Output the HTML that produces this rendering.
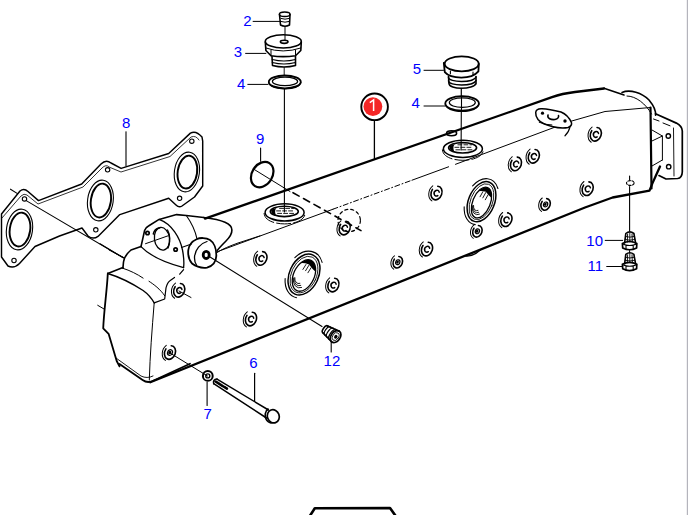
<!DOCTYPE html>
<html><head><meta charset="utf-8"><style>
html,body{margin:0;padding:0;background:#fff;}
svg{display:block;}
</style></head><body>
<svg width="689" height="515" viewBox="0 0 689 515">
<rect width="689" height="515" fill="#fff"/>
<path d="M205,218.6 L552,97.2 Q562,93.6 575,92 L604,88.5" stroke-width="2.3" stroke="#000" stroke-linecap="round" stroke-linejoin="round" fill="none" />
<path d="M604,88.2 L624,95" stroke-width="1.6" stroke="#000" stroke-linecap="round" stroke-linejoin="round" fill="none" />
<path d="M216.5,252 L333,209.2 M412,180.2 L448.6,166.8 M455.5,164.3 L570,121.5 L605,111.5 L650.5,107.5" stroke-width="1.0" stroke="#000" stroke-linecap="round" stroke-linejoin="round" fill="none" />
<path d="M333,209.2 L412,180.2" stroke-width="1.0" stroke="#000" stroke-linecap="round" stroke-linejoin="round" fill="none" stroke-dasharray="5,2.5,1,2.5" stroke-linecap="butt"/>
<path d="M650.5,107.5 L651.5,188.5" stroke-width="2.2" stroke="#000" stroke-linecap="round" stroke-linejoin="round" fill="none" />
<path d="M653.5,119 L659,121 M663,123 L670,125.8" stroke-width="1.0" stroke="#000" stroke-linecap="round" stroke-linejoin="round" fill="none" />
<path d="M150.3,382.3 L585,207.5 L612.6,197.5 L649.5,190.7 L652.4,183.4 L660,166.5" stroke-width="2.3" stroke="#000" stroke-linecap="round" stroke-linejoin="round" fill="none" />
<path d="M465,255.8 Q473,257 480.5,249.8" stroke-width="1.4" stroke="#000" stroke-linecap="round" stroke-linejoin="round" fill="none" />
<path d="M107.8,273.5 L122.9,267.6" stroke-width="1.6" stroke="#000" stroke-linecap="round" stroke-linejoin="round" fill="none" />
<path d="M107.8,273.5 C107,290 104,310 103.2,328.4 L108.6,333.8 L116.7,361 L119.5,366.4" stroke-width="1.8" stroke="#000" stroke-linecap="round" stroke-linejoin="round" fill="none" />
<path d="M119.5,364 L142.6,380 Q148,384 154.8,380 L190,363.7" stroke-width="1.8" stroke="#000" stroke-linecap="round" stroke-linejoin="round" fill="none" />
<path d="M116,358 L141,376 Q147,379 153,376" stroke-width="0.9" stroke="#000" stroke-linecap="round" stroke-linejoin="round" fill="none" />
<path d="M97.7,305.3 L104.5,309.3" stroke-width="1.0" stroke="#000" stroke-linecap="round" stroke-linejoin="round" fill="none" />
<path d="M107.8,273.5 C116,276 130,282 143.1,290.5 C148,294 152,299 154.2,302.9" stroke-width="1.4" stroke="#000" stroke-linecap="round" stroke-linejoin="round" fill="none" />
<path d="M122.9,268.3 C130,270.5 137,274 143.1,278.1 M149,281.3 C154,284.5 160,289 164.7,295.7" stroke-width="1.0" stroke="#000" stroke-linecap="round" stroke-linejoin="round" fill="none" />
<path d="M154.2,302.9 C152,330 150,355 149.3,380" stroke-width="1.0" stroke="#000" stroke-linecap="round" stroke-linejoin="round" fill="none" />
<path d="M154.2,302.9 L164.7,299 L166,287.9 C167,284 168,282 169.9,280.7 L174.5,277.4 M179.7,274.2 L183.6,269.6" stroke-width="1.2" stroke="#000" stroke-linecap="round" stroke-linejoin="round" fill="none" />
<path d="M141,246.6 L144.6,230.5 Q145.5,227.5 148.5,226 L159.1,219.4 L176.6,214.6 L186.3,215.5 L203.7,217.5" stroke-width="1.6" stroke="#000" stroke-linecap="round" stroke-linejoin="round" fill="none" />
<path d="M141,246.6 L131,250 Q124,256 123.5,262 L122.9,268.3" stroke-width="1.6" stroke="#000" stroke-linecap="round" stroke-linejoin="round" fill="none" />
<path d="M159.1,219.4 C172,224 180,238 182.5,250 C183.8,257 184.3,262 183.6,267.6" stroke-width="1.3" stroke="#000" stroke-linecap="round" stroke-linejoin="round" fill="none" />
<path d="M141,246.6 C150,256 166,263 183.6,267.6" stroke-width="1.2" stroke="#000" stroke-linecap="round" stroke-linejoin="round" fill="none" />
<path d="M186.3,215.5 C191,222 195,230 197,238.8" stroke-width="1.1" stroke="#000" stroke-linecap="round" stroke-linejoin="round" fill="none" />
<path d="M109.1,250 L124.2,257.8" stroke-width="1.0" stroke="#000" stroke-linecap="round" stroke-linejoin="round" fill="none" />
<ellipse cx="162" cy="238.8" rx="7.6" ry="11.4" stroke-width="1.3" stroke="#000" stroke-linecap="round" stroke-linejoin="round" fill="none" transform="rotate(-8 162 238.8)"/>
<path d="M167.5,230 C170,234 170.5,242 168,248" stroke-width="1.4" stroke="#000" stroke-linecap="round" stroke-linejoin="round" fill="none" />
<path d="M153.3,234 Q154.5,229 159.1,228.1" stroke-width="1.5" stroke="#000" stroke-linecap="round" stroke-linejoin="round" fill="none" />
<path d="M145.5,243.7 L167.8,235.9" stroke-width="1.0" stroke="#000" stroke-linecap="round" stroke-linejoin="round" fill="none" />
<circle cx="147.5" cy="233" r="1.7" stroke-width="1.7" stroke="#000" stroke-linecap="round" stroke-linejoin="round" fill="none"/>
<circle cx="175.6" cy="249.5" r="1.7" stroke-width="1.7" stroke="#000" stroke-linecap="round" stroke-linejoin="round" fill="none"/>
<path d="M203.7,217.5 C212,218.5 220,220 225,222.3 C230,224.5 232,227 231.9,230 C232,233 230,237 226,241 C222,245 219,248 217.3,250.4" stroke-width="1.6" stroke="#000" stroke-linecap="round" stroke-linejoin="round" fill="none" />
<path d="M217.3,252.4 C222,249 230,246 238,243 L260,235.9" stroke-width="1.0" stroke="#000" stroke-linecap="round" stroke-linejoin="round" fill="none" />
<path d="M196.6,239.2 C200,237.5 206,237.5 210,240 C214,242.5 216.5,249 216.3,256 C216,262 213,266 207,267.6 C200,268.5 196,266.5 192,263.5 C189,260 187.8,255 188.3,250 C188.8,246 191.5,241.5 196.6,239.2 Z" stroke-width="1.8" stroke="#000" stroke-linecap="round" stroke-linejoin="round" fill="#fff" />
<path d="M207,241.5 C200,243.5 195.5,249.5 194.6,256 C194.2,260 194.8,262.5 196.5,265" stroke-width="1.3" stroke="#000" stroke-linecap="round" stroke-linejoin="round" fill="none" />
<ellipse cx="206.2" cy="254.9" rx="3" ry="3.6" stroke-width="2.8" stroke="#000" stroke-linecap="round" stroke-linejoin="round" fill="none"/>
<path d="M181.5,247.5 L191.5,244" stroke-width="1.1" stroke="#000" stroke-linecap="round" stroke-linejoin="round" fill="none" />
<path d="M208.8,256.3 L322,326.5" stroke-width="1.1" stroke="#000" stroke-linecap="round" stroke-linejoin="round" fill="none" />
<path d="M19.5,263.5 Q14,269 8,266 L1.5,257 L1.5,214 L20,191 Q24,188 28,191.5 L38.5,200.6 L81.7,184 L101,164 Q106,159 111,163 L121.1,168.4 L168.7,153.5 L190.4,133.1 Q196,130 202,137 L202.7,141.2 L202.7,186 L194.5,197 L182,206 Q179,208 176,205 L168.7,198.3 L119.8,214.6 L98,236.4 Q93,240 88,236 L82,228 L59.5,236 L35,246.5 L19.5,263.5" stroke-width="1.45" stroke="#000" stroke-linecap="round" stroke-linejoin="round" fill="none" />
<path d="M2,218 L21,196 Q24,193 27,195 L38,204 L83,187 L102,168 Q106,164 109,167 L121,172 L170,156.5 L191,137 Q196,135 199,140" stroke-width="0.8" stroke="#000" stroke-linecap="round" stroke-linejoin="round" fill="none" />
<ellipse cx="19.5" cy="229.5" rx="13" ry="20.5" stroke-width="1.1" stroke="#000" stroke-linecap="round" stroke-linejoin="round" fill="none" transform="rotate(8 19.5 229.5)"/>
<ellipse cx="20.0" cy="229.5" rx="10.2" ry="17.0" stroke-width="1.9" stroke="#000" stroke-linecap="round" stroke-linejoin="round" fill="none" transform="rotate(8 19.5 229.5)"/>
<ellipse cx="100.4" cy="200.5" rx="12.8" ry="20.5" stroke-width="1.1" stroke="#000" stroke-linecap="round" stroke-linejoin="round" fill="none" transform="rotate(8 100.4 200.5)"/>
<ellipse cx="100.9" cy="200.5" rx="10.0" ry="17.0" stroke-width="1.9" stroke="#000" stroke-linecap="round" stroke-linejoin="round" fill="none" transform="rotate(8 100.4 200.5)"/>
<ellipse cx="186.9" cy="172" rx="12.5" ry="20" stroke-width="1.1" stroke="#000" stroke-linecap="round" stroke-linejoin="round" fill="none" transform="rotate(8 186.9 172)"/>
<ellipse cx="187.4" cy="172" rx="9.7" ry="16.5" stroke-width="1.9" stroke="#000" stroke-linecap="round" stroke-linejoin="round" fill="none" transform="rotate(8 186.9 172)"/>
<circle cx="24.5" cy="198.9" r="2.2" stroke-width="1.1" stroke="#000" stroke-linecap="round" stroke-linejoin="round" fill="none"/>
<circle cx="107.6" cy="169.8" r="2.2" stroke-width="1.1" stroke="#000" stroke-linecap="round" stroke-linejoin="round" fill="none"/>
<circle cx="191.8" cy="141.2" r="2.2" stroke-width="1.1" stroke="#000" stroke-linecap="round" stroke-linejoin="round" fill="none"/>
<circle cx="179.6" cy="198.3" r="2.2" stroke-width="1.1" stroke="#000" stroke-linecap="round" stroke-linejoin="round" fill="none"/>
<circle cx="95.8" cy="229.8" r="2.2" stroke-width="1.1" stroke="#000" stroke-linecap="round" stroke-linejoin="round" fill="none"/>
<circle cx="14" cy="260.5" r="2.2" stroke-width="1.1" stroke="#000" stroke-linecap="round" stroke-linejoin="round" fill="none"/>
<path d="M10.5,189.2 L17.5,193.6 M26.2,200.6 L123.3,257.8" stroke-width="1.1" stroke="#000" stroke-linecap="round" stroke-linejoin="round" fill="none" />
<path d="M100,243.8 L123.3,257.8" stroke-width="1.1" stroke="#000" stroke-linecap="round" stroke-linejoin="round" fill="none" />
<ellipse cx="284.7" cy="14.3" rx="5.3" ry="2.3" stroke-width="1.5" stroke="#000" stroke-linecap="round" stroke-linejoin="round" fill="none"/>
<path d="M279.5,14.5 L280.5,25 Q285,27.5 289.5,25 L290,14.5" stroke-width="1.6" stroke="#000" stroke-linecap="round" stroke-linejoin="round" fill="none" />
<path d="M281,18.5 Q285,20 289,18.5 M281,21.5 Q285,23 289,21.5" stroke-width="1.0" stroke="#000" stroke-linecap="round" stroke-linejoin="round" fill="none" />
<path d="M285,27 L285,40" stroke-width="1.0" stroke="#000" stroke-linecap="round" stroke-linejoin="round" fill="none" />
<ellipse cx="283.3" cy="41.4" rx="18" ry="6.6" stroke-width="1.6" stroke="#000" stroke-linecap="round" stroke-linejoin="round" fill="none"/>
<path d="M265.3,42 L265.9,50.5 L271,55.7 Q283,57.5 295.5,55.7 L300.8,50.5 L301.3,42" stroke-width="1.6" stroke="#000" stroke-linecap="round" stroke-linejoin="round" fill="none" />
<path d="M265.9,48 Q283,54 300.8,48 M271,50 L271,55.7 M295.5,50 L295.5,55.7" stroke-width="1.0" stroke="#000" stroke-linecap="round" stroke-linejoin="round" fill="none" />
<ellipse cx="284.2" cy="41.8" rx="3.8" ry="1.6" stroke-width="1.6" stroke="#000" stroke-linecap="round" stroke-linejoin="round" fill="none"/>
<path d="M272,56.5 L272.5,65.5 Q284,68.5 295.5,65.5 L295.5,56.5" stroke-width="1.6" stroke="#000" stroke-linecap="round" stroke-linejoin="round" fill="none" />
<path d="M272.2,59.5 Q284,62.5 295.5,59.5 M272.3,62.5 Q284,65.5 295.5,62.5" stroke-width="1.2" stroke="#000" stroke-linecap="round" stroke-linejoin="round" fill="none" />
<path d="M284.2,67.5 L284.2,75" stroke-width="0.9" stroke="#000" stroke-linecap="round" stroke-linejoin="round" fill="none" />
<ellipse cx="284.8" cy="81.9" rx="16" ry="6.4" stroke-width="1.8" stroke="#000" stroke-linecap="round" stroke-linejoin="round" fill="none"/>
<ellipse cx="285" cy="81.4" rx="12.6" ry="4.2" stroke-width="1.2" stroke="#000" stroke-linecap="round" stroke-linejoin="round" fill="none"/>
<path d="M268.8,82.5 Q270,88.5 284.8,89 Q299,88.5 300.8,82.5" stroke-width="1.2" stroke="#000" stroke-linecap="round" stroke-linejoin="round" fill="none" />
<path d="M284.4,89 L284.4,212" stroke-width="1.1" stroke="#000" stroke-linecap="round" stroke-linejoin="round" fill="none" />
<ellipse cx="262.2" cy="174.6" rx="13.6" ry="10.2" stroke-width="2.2" stroke="#000" stroke-linecap="round" stroke-linejoin="round" fill="none" transform="rotate(-58 262.2 174.6)"/>
<path d="M253.3,168.9 L290,191.5" stroke-width="1.0" stroke="#000" stroke-linecap="round" stroke-linejoin="round" fill="none" />
<path d="M293,192.7 L361,230.6" stroke-width="1.6" stroke="#000" stroke-linecap="round" stroke-linejoin="round" fill="none" stroke-dasharray="7,5"/>
<ellipse cx="284.6" cy="212.4" rx="19.5" ry="8.6" stroke-width="1.5" stroke="#000" stroke-linecap="round" stroke-linejoin="round" fill="none"/>
<path d="M264.1,213.4 C264.6,221.4 276.6,223.9 284.6,223.9 C292.6,223.9 304.6,221.4 305.1,213.4" stroke-width="1.0" stroke="#000" stroke-linecap="round" stroke-linejoin="round" fill="none" stroke-dasharray="14,3"/>
<ellipse cx="284.3" cy="211.4" rx="14" ry="5.2" stroke-width="1.6" stroke="#000" stroke-linecap="round" stroke-linejoin="round" fill="none"/>
<path d="M271.1,210.4 C271.6,214.4 274.6,215.9 276.6,215.9 C274.6,213.4 274.6,209.4 276.6,207.9 C273.6,208.4 271.1,209.4 271.1,210.4 Z" fill="#000" stroke="none"/>
<path d="M276.6,210.9 L294.6,210.9 M277.6,213.4 L294.6,213.4 M279.6,208.4 L293.6,208.4" stroke-width="0.9" stroke="#000" stroke-linecap="round" stroke-linejoin="round" fill="none" stroke="#555" stroke-dasharray="4,2"/>
<circle cx="349.2" cy="220.5" r="11.2" stroke-width="1.2" stroke="#000" stroke-linecap="round" stroke-linejoin="round" fill="none" stroke-dasharray="3,3"/>
<g transform="translate(344.7,228) rotate(22)"><path d="M-1.37,-6.76 A5.3,7.0 0 1 1 -5.12,-1.81" stroke-width="1.6" stroke="#000" stroke-linecap="round" stroke-linejoin="round" fill="none"/><path d="M-6.14,-5.28 A7.5,9.2 0 0 0 -1.30,9.06" stroke-width="1.0" stroke="#000" stroke-linecap="round" stroke-linejoin="round" fill="none"/><path d="M2.2,-1.8 A2.5,3.0 0 1 0 2.2,1.9" stroke-width="1.5" stroke="#000" stroke-linecap="round" stroke-linejoin="round" fill="none"/></g>
<path d="M179,291 L191,297.5" stroke-width="1.0" stroke="#000" stroke-linecap="round" stroke-linejoin="round" fill="none" />
<ellipse cx="461.7" cy="63.8" rx="17" ry="7.5" stroke-width="1.8" stroke="#000" stroke-linecap="round" stroke-linejoin="round" fill="none"/>
<path d="M443.8,63 L444.8,72.2 C448,76 455,77.6 461.3,77.6 C468,77.6 475,75.5 478.4,71.4 L478.8,64" stroke-width="1.8" stroke="#000" stroke-linecap="round" stroke-linejoin="round" fill="none" />
<path d="M450.4,71 L450.4,73.8 M473,72 L473,74.8" stroke-width="1.1" stroke="#000" stroke-linecap="round" stroke-linejoin="round" fill="none" />
<path d="M448.5,77 C448,80 455,81.5 461.5,81.5 C468,81.5 475,80 476,77" stroke-width="1.4" stroke="#000" stroke-linecap="round" stroke-linejoin="round" fill="none" />
<path d="M448.5,80.5 C448,83.5 455,85 461.5,85 C468,85 475,83.5 476,80.5" stroke-width="1.4" stroke="#000" stroke-linecap="round" stroke-linejoin="round" fill="none" />
<path d="M449,83.5 C449,86.5 455,88.3 461.5,88.3 C468,88.3 475,86.5 476,83.5 M448.5,76.5 L449,84 M476,76.5 L476,84" stroke-width="1.6" stroke="#000" stroke-linecap="round" stroke-linejoin="round" fill="none" />
<path d="M461.3,88.3 L461.3,96" stroke-width="1.2" stroke="#000" stroke-linecap="round" stroke-linejoin="round" fill="none" />
<ellipse cx="462.1" cy="103.4" rx="16.8" ry="7.2" stroke-width="1.8" stroke="#000" stroke-linecap="round" stroke-linejoin="round" fill="none"/>
<ellipse cx="462.3" cy="102.6" rx="13" ry="4.8" stroke-width="1.2" stroke="#000" stroke-linecap="round" stroke-linejoin="round" fill="none"/>
<path d="M445.3,104 Q447,111 462.1,111.5 Q477,111 478.9,104" stroke-width="1.1" stroke="#000" stroke-linecap="round" stroke-linejoin="round" fill="none" />
<path d="M461.5,96 L461.5,111 M461.3,111.5 L461.1,150" stroke-width="1.1" stroke="#000" stroke-linecap="round" stroke-linejoin="round" fill="none" />
<ellipse cx="451.6" cy="133.3" rx="5" ry="2.5" stroke-width="1.6" stroke="#000" stroke-linecap="round" stroke-linejoin="round" fill="none" fill="#fff"/>
<ellipse cx="462.9" cy="148.8" rx="19.5" ry="8.6" stroke-width="1.5" stroke="#000" stroke-linecap="round" stroke-linejoin="round" fill="none"/>
<path d="M442.4,149.8 C442.9,157.8 454.9,160.3 462.9,160.3 C470.9,160.3 482.9,157.8 483.4,149.8" stroke-width="1.0" stroke="#000" stroke-linecap="round" stroke-linejoin="round" fill="none" stroke-dasharray="14,3"/>
<ellipse cx="462.59999999999997" cy="147.8" rx="14" ry="5.2" stroke-width="1.6" stroke="#000" stroke-linecap="round" stroke-linejoin="round" fill="none"/>
<path d="M449.4,146.8 C449.9,150.8 452.9,152.3 454.9,152.3 C452.9,149.8 452.9,145.8 454.9,144.3 C451.9,144.8 449.4,145.8 449.4,146.8 Z" fill="#000" stroke="none"/>
<path d="M454.9,147.3 L472.9,147.3 M455.9,149.8 L472.9,149.8 M457.9,144.8 L471.9,144.8" stroke-width="0.9" stroke="#000" stroke-linecap="round" stroke-linejoin="round" fill="none" stroke="#555" stroke-dasharray="4,2"/>
<path d="M622,92.5 C630,89 642,93 649,100 C654,106 656,111 655.6,115.3" stroke-width="1.6" stroke="#000" stroke-linecap="round" stroke-linejoin="round" fill="none" />
<path d="M627,96 C636,96 646,104 651.5,114" stroke-width="1.0" stroke="#000" stroke-linecap="round" stroke-linejoin="round" fill="none" />
<path d="M655.5,113.8 L676.4,123.1 Q682,126 682.3,131 L682.3,172 Q682,178 677.6,178.5 L666,179 L659,175.6" stroke-width="1.7" stroke="#000" stroke-linecap="round" stroke-linejoin="round" fill="none" />
<path d="M673.5,128 L674,176" stroke-width="0.9" stroke="#000" stroke-linecap="round" stroke-linejoin="round" fill="none" />
<path d="M652,130 L662.4,136 L652,141 M662.4,136 L662.4,160 M652,166 L662.4,160" stroke-width="1.0" stroke="#000" stroke-linecap="round" stroke-linejoin="round" fill="none" />
<circle cx="668.3" cy="136" r="2.2" stroke-width="1.4" stroke="#000" fill="none"/>
<circle cx="668.7" cy="166.7" r="2.2" stroke-width="1.4" stroke="#000" fill="none"/>
<path d="M535.7,112.5 C536,109.5 539,108.5 542,108.7 C548,109 555,110.5 561,112 C566,114 569,117 571.5,122.7 C572,125 571,126.5 568,127.5 C563,128.5 558,128 552,126.5 C546,125 541,123 538,119.5 C536.5,117.5 535.5,115 535.7,112.5 Z" stroke-width="1.5" stroke="#000" stroke-linecap="round" stroke-linejoin="round" fill="#fff" />
<path d="M539.2,122.3 Q546,125 551.9,125" stroke-width="1.0" stroke="#000" stroke-linecap="round" stroke-linejoin="round" fill="none" />
<path d="M548,115 C547,118.5 551,120 555,119.5 C558,119 559,117 558.5,115.5" stroke-width="1.6" stroke="#000" stroke-linecap="round" stroke-linejoin="round" fill="none" />
<circle cx="542.5" cy="113.2" r="1.6" fill="#000"/>
<circle cx="565" cy="121" r="1.7" fill="#000"/>
<path d="M570.2,126.2 Q569,132 565,135.8" stroke-width="1.2" stroke="#000" stroke-linecap="round" stroke-linejoin="round" fill="none" />
<g transform="translate(304,274.6) rotate(25)"><ellipse rx="14.5" ry="21.5" stroke-width="1.5" stroke="#000" stroke-linecap="round" stroke-linejoin="round" fill="none"/><ellipse rx="12.5" ry="19.3" stroke-width="0.8" stroke="#000" stroke-linecap="round" stroke-linejoin="round" fill="none"/><path d="M-15.45,-11.50 A17.5,24.5 0 0 1 11.25,-18.77" stroke-width="1.1" stroke="#000" stroke-linecap="round" stroke-linejoin="round" fill="none"/><path d="M-15.45,11.50 A17.5,24.5 0 0 0 3.04,24.13" stroke-width="1.1" stroke="#000" stroke-linecap="round" stroke-linejoin="round" fill="none"/><ellipse cx="0.3" cy="0.8" rx="10.3" ry="16.7" stroke-width="1.3" stroke="#000" stroke-linecap="round" stroke-linejoin="round" fill="none"/><path d="M-8.44,-9.58 A10.3,16.7 0 0 1 8.92,-8.35 Q5.15,-9.185 0,-12.024 Q-5.15,-11.69 -8.44,-9.58 Z" fill="#000" stroke="none" transform="translate(0.3,0.8)"/><path d="M-7.31,6.85 A8.446,13.693999999999999 0 0 0 4.22,11.86" stroke-width="0.8" stroke="#000" stroke-linecap="round" stroke-linejoin="round" fill="none" transform="translate(-0.93,0.90)"/><path d="M-5.89,5.51 A6.798,11.021999999999998 0 0 0 3.40,9.55" stroke-width="0.8" stroke="#000" stroke-linecap="round" stroke-linejoin="round" fill="none" transform="translate(-1.75,1.70)"/><path d="M-4.46,4.17 A5.1499999999999995,8.349999999999998 0 0 0 2.58,7.23" stroke-width="0.8" stroke="#000" stroke-linecap="round" stroke-linejoin="round" fill="none" transform="translate(-2.58,2.50)"/><path d="M-2.5,-10.02 L-3.2,-4.175 M0.5,-10.354 L-0.2,-4.175 M3.5,-9.185 L2.8,-3.34" stroke-width="0.8" stroke="#000" stroke-linecap="round" stroke-linejoin="round" fill="none"/></g>
<g transform="translate(481.5,201.7) rotate(22)"><ellipse rx="13" ry="21" stroke-width="1.5" stroke="#000" stroke-linecap="round" stroke-linejoin="round" fill="none"/><ellipse rx="11" ry="18.8" stroke-width="0.8" stroke="#000" stroke-linecap="round" stroke-linejoin="round" fill="none"/><path d="M-14.13,-11.27 A16,24 0 0 1 10.28,-18.39" stroke-width="1.1" stroke="#000" stroke-linecap="round" stroke-linejoin="round" fill="none"/><path d="M-14.13,11.27 A16,24 0 0 0 2.78,23.64" stroke-width="1.1" stroke="#000" stroke-linecap="round" stroke-linejoin="round" fill="none"/><ellipse cx="0.3" cy="0.8" rx="8.8" ry="16.2" stroke-width="1.3" stroke="#000" stroke-linecap="round" stroke-linejoin="round" fill="none"/><path d="M-7.21,-9.29 A8.8,16.2 0 0 1 7.62,-8.10 Q4.4,-8.91 0,-11.664 Q-4.4,-11.339999999999998 -7.21,-9.29 Z" fill="#000" stroke="none" transform="translate(0.3,0.8)"/><path d="M-6.25,6.64 A7.216,13.283999999999999 0 0 0 3.61,11.50" stroke-width="0.8" stroke="#000" stroke-linecap="round" stroke-linejoin="round" fill="none" transform="translate(-0.79,0.87)"/><path d="M-5.03,5.35 A5.808,10.691999999999998 0 0 0 2.90,9.26" stroke-width="0.8" stroke="#000" stroke-linecap="round" stroke-linejoin="round" fill="none" transform="translate(-1.50,1.65)"/><path d="M-3.81,4.05 A4.3999999999999995,8.099999999999998 0 0 0 2.20,7.01" stroke-width="0.8" stroke="#000" stroke-linecap="round" stroke-linejoin="round" fill="none" transform="translate(-2.20,2.43)"/><path d="M-2.5,-9.719999999999999 L-3.2,-4.05 M0.5,-10.043999999999999 L-0.2,-4.05 M3.5,-8.91 L2.8,-3.24" stroke-width="0.8" stroke="#000" stroke-linecap="round" stroke-linejoin="round" fill="none"/></g>
<g transform="translate(261.4,258.4) rotate(22)"><path d="M-1.37,-6.76 A5.3,7.0 0 1 1 -5.12,-1.81" stroke-width="1.6" stroke="#000" stroke-linecap="round" stroke-linejoin="round" fill="none"/><path d="M-6.14,-5.28 A7.5,9.2 0 0 0 -1.30,9.06" stroke-width="1.0" stroke="#000" stroke-linecap="round" stroke-linejoin="round" fill="none"/><path d="M2.2,-1.8 A2.5,3.0 0 1 0 2.2,1.9" stroke-width="1.5" stroke="#000" stroke-linecap="round" stroke-linejoin="round" fill="none"/></g>
<g transform="translate(333.4,285) rotate(22)"><path d="M-1.37,-6.76 A5.3,7.0 0 1 1 -5.12,-1.81" stroke-width="1.6" stroke="#000" stroke-linecap="round" stroke-linejoin="round" fill="none"/><path d="M-6.14,-5.28 A7.5,9.2 0 0 0 -1.30,9.06" stroke-width="1.0" stroke="#000" stroke-linecap="round" stroke-linejoin="round" fill="none"/><path d="M2.2,-1.8 A2.5,3.0 0 1 0 2.2,1.9" stroke-width="1.5" stroke="#000" stroke-linecap="round" stroke-linejoin="round" fill="none"/></g>
<g transform="translate(436.5,193) rotate(22)"><path d="M-1.37,-6.76 A5.3,7.0 0 1 1 -5.12,-1.81" stroke-width="1.6" stroke="#000" stroke-linecap="round" stroke-linejoin="round" fill="none"/><path d="M-6.14,-5.28 A7.5,9.2 0 0 0 -1.30,9.06" stroke-width="1.0" stroke="#000" stroke-linecap="round" stroke-linejoin="round" fill="none"/><path d="M2.2,-1.8 A2.5,3.0 0 1 0 2.2,1.9" stroke-width="1.5" stroke="#000" stroke-linecap="round" stroke-linejoin="round" fill="none"/></g>
<g transform="translate(516,163.9) rotate(22)"><path d="M-1.37,-6.76 A5.3,7.0 0 1 1 -5.12,-1.81" stroke-width="1.6" stroke="#000" stroke-linecap="round" stroke-linejoin="round" fill="none"/><path d="M-6.14,-5.28 A7.5,9.2 0 0 0 -1.30,9.06" stroke-width="1.0" stroke="#000" stroke-linecap="round" stroke-linejoin="round" fill="none"/><path d="M2.2,-1.8 A2.5,3.0 0 1 0 2.2,1.9" stroke-width="1.5" stroke="#000" stroke-linecap="round" stroke-linejoin="round" fill="none"/></g>
<g transform="translate(533.8,156.3) rotate(22)"><path d="M-1.37,-6.76 A5.3,7.0 0 1 1 -5.12,-1.81" stroke-width="1.6" stroke="#000" stroke-linecap="round" stroke-linejoin="round" fill="none"/><path d="M-6.14,-5.28 A7.5,9.2 0 0 0 -1.30,9.06" stroke-width="1.0" stroke="#000" stroke-linecap="round" stroke-linejoin="round" fill="none"/><path d="M2.2,-1.8 A2.5,3.0 0 1 0 2.2,1.9" stroke-width="1.5" stroke="#000" stroke-linecap="round" stroke-linejoin="round" fill="none"/></g>
<g transform="translate(506.4,219.7) rotate(22)"><path d="M-1.37,-6.76 A5.3,7.0 0 1 1 -5.12,-1.81" stroke-width="1.6" stroke="#000" stroke-linecap="round" stroke-linejoin="round" fill="none"/><path d="M-6.14,-5.28 A7.5,9.2 0 0 0 -1.30,9.06" stroke-width="1.0" stroke="#000" stroke-linecap="round" stroke-linejoin="round" fill="none"/><path d="M2.2,-1.8 A2.5,3.0 0 1 0 2.2,1.9" stroke-width="1.5" stroke="#000" stroke-linecap="round" stroke-linejoin="round" fill="none"/></g>
<g transform="translate(427,249.1) rotate(22)"><path d="M-1.37,-6.76 A5.3,7.0 0 1 1 -5.12,-1.81" stroke-width="1.6" stroke="#000" stroke-linecap="round" stroke-linejoin="round" fill="none"/><path d="M-6.14,-5.28 A7.5,9.2 0 0 0 -1.30,9.06" stroke-width="1.0" stroke="#000" stroke-linecap="round" stroke-linejoin="round" fill="none"/><path d="M2.2,-1.8 A2.5,3.0 0 1 0 2.2,1.9" stroke-width="1.5" stroke="#000" stroke-linecap="round" stroke-linejoin="round" fill="none"/></g>
<g transform="translate(595.8,134.3) rotate(22)"><path d="M-1.37,-6.76 A5.3,7.0 0 1 1 -5.12,-1.81" stroke-width="1.6" stroke="#000" stroke-linecap="round" stroke-linejoin="round" fill="none"/><path d="M-6.14,-5.28 A7.5,9.2 0 0 0 -1.30,9.06" stroke-width="1.0" stroke="#000" stroke-linecap="round" stroke-linejoin="round" fill="none"/><path d="M2.2,-1.8 A2.5,3.0 0 1 0 2.2,1.9" stroke-width="1.5" stroke="#000" stroke-linecap="round" stroke-linejoin="round" fill="none"/></g>
<g transform="translate(587.7,188.7) rotate(22)"><path d="M-1.37,-6.76 A5.3,7.0 0 1 1 -5.12,-1.81" stroke-width="1.6" stroke="#000" stroke-linecap="round" stroke-linejoin="round" fill="none"/><path d="M-6.14,-5.28 A7.5,9.2 0 0 0 -1.30,9.06" stroke-width="1.0" stroke="#000" stroke-linecap="round" stroke-linejoin="round" fill="none"/><path d="M2.2,-1.8 A2.5,3.0 0 1 0 2.2,1.9" stroke-width="1.5" stroke="#000" stroke-linecap="round" stroke-linejoin="round" fill="none"/></g>
<g transform="translate(179.2,290.3) rotate(22)"><path d="M-1.37,-6.76 A5.3,7.0 0 1 1 -5.12,-1.81" stroke-width="1.6" stroke="#000" stroke-linecap="round" stroke-linejoin="round" fill="none"/><path d="M-6.14,-5.28 A7.5,9.2 0 0 0 -1.30,9.06" stroke-width="1.0" stroke="#000" stroke-linecap="round" stroke-linejoin="round" fill="none"/><path d="M2.2,-1.8 A2.5,3.0 0 1 0 2.2,1.9" stroke-width="1.5" stroke="#000" stroke-linecap="round" stroke-linejoin="round" fill="none"/></g>
<g transform="translate(251,319) rotate(22)"><path d="M-1.37,-6.76 A5.3,7.0 0 1 1 -5.12,-1.81" stroke-width="1.6" stroke="#000" stroke-linecap="round" stroke-linejoin="round" fill="none"/><path d="M-6.14,-5.28 A7.5,9.2 0 0 0 -1.30,9.06" stroke-width="1.0" stroke="#000" stroke-linecap="round" stroke-linejoin="round" fill="none"/><path d="M2.2,-1.8 A2.5,3.0 0 1 0 2.2,1.9" stroke-width="1.5" stroke="#000" stroke-linecap="round" stroke-linejoin="round" fill="none"/></g>
<g transform="translate(170,352.5) rotate(22)"><path d="M-1.37,-6.76 A5.3,7.0 0 1 1 -5.12,-1.81" stroke-width="1.6" stroke="#000" stroke-linecap="round" stroke-linejoin="round" fill="none"/><path d="M-6.14,-5.28 A7.5,9.2 0 0 0 -1.30,9.06" stroke-width="1.0" stroke="#000" stroke-linecap="round" stroke-linejoin="round" fill="none"/><ellipse rx="2.4" ry="2.9" stroke-width="1.2" stroke="#000" stroke-linecap="round" stroke-linejoin="round" fill="none"/><ellipse cx="-0.3" rx="1.5" ry="1.9" fill="#000"/></g>
<g transform="translate(397.8,262.2) rotate(22)"><path d="M-1.17,-5.75 A4.505,5.95 0 1 1 -4.35,-1.54" stroke-width="1.6" stroke="#000" stroke-linecap="round" stroke-linejoin="round" fill="none"/><path d="M-5.49,-4.67 A6.705,8.15 0 0 0 -1.16,8.03" stroke-width="1.0" stroke="#000" stroke-linecap="round" stroke-linejoin="round" fill="none"/><ellipse rx="2.04" ry="2.465" stroke-width="1.2" stroke="#000" stroke-linecap="round" stroke-linejoin="round" fill="none"/><ellipse cx="-0.3" rx="1.275" ry="1.615" fill="#000"/></g>
<g transform="translate(477.4,231.3) rotate(22)"><path d="M-1.17,-5.75 A4.505,5.95 0 1 1 -4.35,-1.54" stroke-width="1.6" stroke="#000" stroke-linecap="round" stroke-linejoin="round" fill="none"/><path d="M-5.49,-4.67 A6.705,8.15 0 0 0 -1.16,8.03" stroke-width="1.0" stroke="#000" stroke-linecap="round" stroke-linejoin="round" fill="none"/><ellipse rx="2.04" ry="2.465" stroke-width="1.2" stroke="#000" stroke-linecap="round" stroke-linejoin="round" fill="none"/><ellipse cx="-0.3" rx="1.275" ry="1.615" fill="#000"/></g>
<g transform="translate(545.6,204.4) rotate(22)"><path d="M-1.17,-5.75 A4.505,5.95 0 1 1 -4.35,-1.54" stroke-width="1.6" stroke="#000" stroke-linecap="round" stroke-linejoin="round" fill="none"/><path d="M-5.49,-4.67 A6.705,8.15 0 0 0 -1.16,8.03" stroke-width="1.0" stroke="#000" stroke-linecap="round" stroke-linejoin="round" fill="none"/><ellipse rx="2.04" ry="2.465" stroke-width="1.2" stroke="#000" stroke-linecap="round" stroke-linejoin="round" fill="none"/><ellipse cx="-0.3" rx="1.275" ry="1.615" fill="#000"/></g>
<path d="M169.7,352.8 L207.5,376" stroke-width="1.0" stroke="#000" stroke-linecap="round" stroke-linejoin="round" fill="none" />
<circle cx="207.8" cy="375.9" r="4.9" stroke-width="2" stroke="#000" stroke-linecap="round" stroke-linejoin="round" fill="none"/>
<circle cx="207.8" cy="375.9" r="2" stroke-width="1.4" stroke="#000" stroke-linecap="round" stroke-linejoin="round" fill="none"/>
<path d="M217,379.1 L268.5,410" stroke-width="1.5" stroke="#000" stroke-linecap="round" stroke-linejoin="round" fill="none" />
<path d="M213.7,383.7 L266.5,418" stroke-width="1.5" stroke="#000" stroke-linecap="round" stroke-linejoin="round" fill="none" />
<path d="M217,379.1 Q212.5,379.5 213.7,383.7" stroke-width="1.5" stroke="#000" stroke-linecap="round" stroke-linejoin="round" fill="none" />
<path d="M215.5,381.5 L227.5,389" stroke-width="2.6" stroke="#000" stroke-linecap="round" stroke-linejoin="round" fill="none" stroke-dasharray="0.9,0.9" stroke-linecap="butt"/>
<path d="M268,409 C265,411 264.5,416 266,419 C267,421.5 269,422.5 271,423" stroke-width="1.6" stroke="#000" stroke-linecap="round" stroke-linejoin="round" fill="none" />
<ellipse cx="273.3" cy="416.3" rx="5.9" ry="6.7" stroke-width="1.7" stroke="#000" stroke-linecap="round" stroke-linejoin="round" fill="none" fill="#fff" transform="rotate(-20 273.3 416.3)"/>
<g transform="translate(335.6,336.6) rotate(35)"><path d="M0,-6.6 L-12.5,-4.2 M0,6.6 L-12.5,4.2" stroke-width="1.6" stroke="#000" stroke-linecap="round" stroke-linejoin="round" fill="none"/><path d="M-12.5,-4.2 A2.2,4.2 0 0 0 -12.5,4.2" stroke-width="1.6" stroke="#000" stroke-linecap="round" stroke-linejoin="round" fill="none"/><path d="M-3.5,-6.1 A2.6,6.1 0 0 0 -3.5,6.1" stroke-width="1.2" stroke="#000" stroke-linecap="round" stroke-linejoin="round" fill="none"/><path d="M-6.5,-5.5 A2.6,5.5 0 0 0 -6.5,5.5" stroke-width="1.2" stroke="#000" stroke-linecap="round" stroke-linejoin="round" fill="none"/><path d="M-9.5,-4.9 A2.6,4.9 0 0 0 -9.5,4.9" stroke-width="1.2" stroke="#000" stroke-linecap="round" stroke-linejoin="round" fill="none"/><ellipse rx="4.6" ry="6.6" stroke-width="1.7" stroke="#000" stroke-linecap="round" stroke-linejoin="round" fill="none" fill="#fff"/><ellipse cx="0.3" cy="0" rx="1.6" ry="2" fill="#000"/><ellipse rx="3" ry="4.3" stroke-width="0.8" stroke="#000" stroke-linecap="round" stroke-linejoin="round" fill="none"/></g>
<path d="M629.6,176 L629.6,180 M629.6,186.5 L629.6,231" stroke-width="1.1" stroke="#000" stroke-linecap="round" stroke-linejoin="round" fill="none" />
<ellipse cx="630.3" cy="183" rx="3.8" ry="2.4" stroke-width="1.1" stroke="#000" stroke-linecap="round" stroke-linejoin="round" fill="none" stroke-dasharray="2.5,1.5"/>
<path d="M624.6,243 L625.8,233.5 Q629.8,230.3 633.9,233.5 L635.6,243" stroke-width="1.6" stroke="#000" stroke-linecap="round" stroke-linejoin="round" fill="none" />
<path d="M627.6,234 L627.3,242 M629.8,233 L629.8,242 M632,234 L632.4,242" stroke-width="0.9" stroke="#000" stroke-linecap="round" stroke-linejoin="round" fill="none" />
<path d="M625.5,236.5 Q629.8,238 634.2,236.5 M625.2,239.5 Q629.8,241 634.8,239.5" stroke-width="0.9" stroke="#000" stroke-linecap="round" stroke-linejoin="round" fill="none" />
<path d="M622.4,243.5 Q629.6,239.5 636.8,243.5 L636.6,248 Q629.6,251.5 622.7,248 Z" stroke-width="1.7" stroke="#000" stroke-linecap="round" stroke-linejoin="round" fill="none" />
<path d="M622.6,244 Q629.6,247 636.7,244 M626,245.5 L626,249.5 M633.2,245.5 L633.2,249.5" stroke-width="1.1" stroke="#000" stroke-linecap="round" stroke-linejoin="round" fill="none" />
<path d="M629.6,250.5 L629.6,253" stroke-width="1.0" stroke="#000" stroke-linecap="round" stroke-linejoin="round" fill="none" />
<path d="M624.6,263.8 L625.8,254.3 Q629.8,251.10000000000002 633.9,254.3 L635.6,263.8" stroke-width="1.6" stroke="#000" stroke-linecap="round" stroke-linejoin="round" fill="none" />
<path d="M627.6,254.8 L627.3,262.8 M629.8,253.8 L629.8,262.8 M632,254.8 L632.4,262.8" stroke-width="0.9" stroke="#000" stroke-linecap="round" stroke-linejoin="round" fill="none" />
<path d="M625.5,257.3 Q629.8,258.8 634.2,257.3 M625.2,260.3 Q629.8,261.8 634.8,260.3" stroke-width="0.9" stroke="#000" stroke-linecap="round" stroke-linejoin="round" fill="none" />
<path d="M622.4,264.3 Q629.6,260.3 636.8,264.3 L636.6,268.8 Q629.6,272.3 622.7,268.8 Z" stroke-width="1.7" stroke="#000" stroke-linecap="round" stroke-linejoin="round" fill="none" />
<path d="M622.6,264.8 Q629.6,267.8 636.7,264.8 M626,266.3 L626,270.3 M633.2,266.3 L633.2,270.3" stroke-width="1.1" stroke="#000" stroke-linecap="round" stroke-linejoin="round" fill="none" />
<path d="M253.1,21.4 L279.8,21.4" stroke-width="1.0" stroke="#000" stroke-linecap="round" stroke-linejoin="round" fill="none" />
<path d="M245.6,53.4 L265.9,53.4" stroke-width="1.0" stroke="#000" stroke-linecap="round" stroke-linejoin="round" fill="none" />
<path d="M247.8,84.4 L268,84.4" stroke-width="1.0" stroke="#000" stroke-linecap="round" stroke-linejoin="round" fill="none" />
<path d="M424,70.3 L443.5,70.3" stroke-width="1.0" stroke="#000" stroke-linecap="round" stroke-linejoin="round" fill="none" />
<path d="M424,106 L445,106" stroke-width="1.0" stroke="#000" stroke-linecap="round" stroke-linejoin="round" fill="none" />
<path d="M374.4,120.5 L374.4,158.6" stroke-width="1.3" stroke="#000" stroke-linecap="round" stroke-linejoin="round" fill="none" />
<path d="M126,131.7 L126,165.7" stroke-width="1.1" stroke="#000" stroke-linecap="round" stroke-linejoin="round" fill="none" />
<path d="M260.6,148 L260.6,161.2" stroke-width="1.1" stroke="#000" stroke-linecap="round" stroke-linejoin="round" fill="none" />
<path d="M605.2,240.4 L622.7,240.4" stroke-width="1.0" stroke="#000" stroke-linecap="round" stroke-linejoin="round" fill="none" />
<path d="M606.7,266.5 L622.7,266.5" stroke-width="1.0" stroke="#000" stroke-linecap="round" stroke-linejoin="round" fill="none" />
<path d="M331.2,342 L331.2,352" stroke-width="1.1" stroke="#000" stroke-linecap="round" stroke-linejoin="round" fill="none" />
<path d="M254.6,373.3 L254.6,401.3" stroke-width="1.2" stroke="#000" stroke-linecap="round" stroke-linejoin="round" fill="none" />
<path d="M207.1,382 L207.1,405.5" stroke-width="1.1" stroke="#000" stroke-linecap="round" stroke-linejoin="round" fill="none" />
<circle cx="374.6" cy="106.8" r="13.3" fill="#fff" stroke="#000" stroke-width="1.9"/>
<circle cx="372.9" cy="106.6" r="9.4" fill="#f42626"/>
<path d="M369.8,102.6 L373.6,100 L373.6,111" stroke="#fff" stroke-width="1.5" fill="none" stroke-linejoin="miter"/>
<text x="243.2" y="25.5" font-family="Liberation Sans, sans-serif" font-size="15" fill="#0000ff">2</text>
<text x="233.8" y="56.5" font-family="Liberation Sans, sans-serif" font-size="15" fill="#0000ff">3</text>
<text x="237.1" y="88.5" font-family="Liberation Sans, sans-serif" font-size="15" fill="#0000ff">4</text>
<text x="412.7" y="74.4" font-family="Liberation Sans, sans-serif" font-size="15" fill="#0000ff">5</text>
<text x="411.5" y="108.4" font-family="Liberation Sans, sans-serif" font-size="15" fill="#0000ff">4</text>
<text x="122.0" y="128.2" font-family="Liberation Sans, sans-serif" font-size="15" fill="#0000ff">8</text>
<text x="255.9" y="144.1" font-family="Liberation Sans, sans-serif" font-size="15" fill="#0000ff">9</text>
<text x="586.3" y="245.6" font-family="Liberation Sans, sans-serif" font-size="15" fill="#0000ff">10</text>
<text x="587.6" y="270.8" font-family="Liberation Sans, sans-serif" font-size="15" fill="#0000ff">11</text>
<text x="323.6" y="365.5" font-family="Liberation Sans, sans-serif" font-size="15" fill="#0000ff">12</text>
<text x="249.3" y="367.9" font-family="Liberation Sans, sans-serif" font-size="15" fill="#0000ff">6</text>
<text x="203.4" y="419.2" font-family="Liberation Sans, sans-serif" font-size="15" fill="#0000ff">7</text>
<path d="M309.8,516 L314.8,508.3 L390,508 L395.7,516" stroke-width="2.6" stroke="#000" stroke-linecap="round" stroke-linejoin="round" fill="none" />
<rect x="686.8" y="0" width="1.2" height="515" fill="#b4b4bc"/>
</svg>
</body></html>
